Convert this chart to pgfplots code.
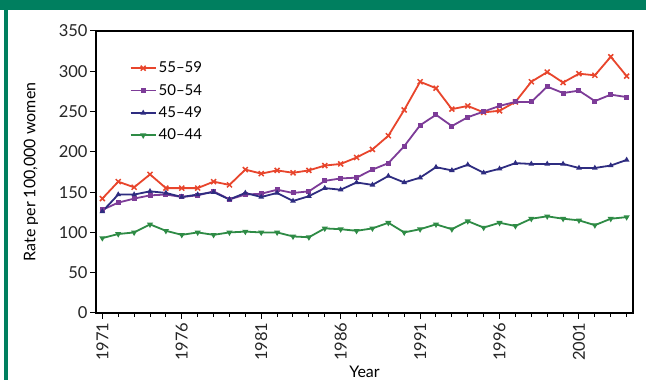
\documentclass[border=0pt]{standalone}
\usepackage{fontspec}
\setmainfont{Lato}
\usepackage{pgfplots}
\usepackage{pgfplotstable}
\pgfplotsset{compat=1.18}
\definecolor{framegreen}{HTML}{007F5F}
\definecolor{cred}{HTML}{E8452C}
\definecolor{cpurple}{HTML}{7D3C98}
\definecolor{cblue}{HTML}{2E2C80}
\definecolor{cgreen}{HTML}{2E8B45}
\pgfplotstableread{
year a b c d
1971 142 128 126 93
1972 163 137 147 98
1973 156 142 147 100
1974 172 146 151 110
1975 155 147 149 102
1976 155 144 144 97
1977 155 146 147 100
1978 163 151 150 97
1979 159 141 141 100
1980 178 147 149 101
1981 173 148 144 100
1982 177 153 149 100
1983 174 149 139 95
1984 177 151 145 94
1985 183 164 155 105
1986 185 167 153 104
1987 193 168 162 102
1988 203 178 159 105
1989 220 186 170 112
1990 252 207 162 100
1991 287 233 168 104
1992 279 246 181 110
1993 253 232 177 104
1994 257 243 184 114
1995 249 250 174 106
1996 251 257 179 112
1997 262 262 186 108
1998 287 262 185 117
1999 299 281 185 120
2000 286 273 185 117
2001 297 276 180 115
2002 295 263 180 109
2003 318 271 183 117
2004 294 268 190 119
}\datatable
\begin{document}
\begin{tikzpicture}[x=1pt,y=1pt]
\useasboundingbox (0,0) rectangle (646,380);
\fill[white] (0,0) rectangle (646,380);
\fill[framegreen] (0,370) rectangle (646,380);
\fill[framegreen] (4,0) rectangle (8,370);
\begin{axis}[
  at={(96pt,67pt)}, anchor=south west,
  scale only axis, width=537pt, height=282pt,
  xmin=1970.6, xmax=2004.4, ymin=0, ymax=350,
  xtick={1971,1976,1981,1986,1991,1996,2001},
  minor xtick={1971,...,2004},
  ytick={0,50,...,350},
  tick align=outside, xtick pos=left, ytick pos=left,
  major tick length=6pt, minor tick length=4pt,
  tick style={black, line width=1pt},
  axis line style={black, line width=1.3pt},
  /pgf/number format/assume math mode=true,
  /pgf/number format/set thousands separator={},
  ticklabel style={font=\fontsize{16.5}{16.5}\selectfont, text=black!85},
  yticklabel style={xshift=1pt},
  xticklabel style={rotate=90, anchor=east},
  xlabel={Year}, ylabel={Rate per 100,000 women},
  label style={font=\fontsize{16}{16}\selectfont},
  xlabel style={at={(axis description cs:0.5,-0.209)}, anchor=center},
  ylabel style={at={(axis description cs:-0.121,0.5)}, anchor=center},
  legend style={draw=none, fill=none, at={(axis description cs:0.057,0.905)}, anchor=north west,
    font=\fontsize{15}{15}\selectfont, row sep=6pt, legend cell align=left},
  legend image code/.code={\draw[mark repeat=2, mark phase=2, #1] plot coordinates {(0pt,0pt) (12.5pt,0pt) (25pt,0pt)};},
  every axis plot/.append style={line width=1.8pt},
]
\addplot[cred, mark=x, mark size=3.5pt, mark options={line width=1.5pt}] table[x=year,y=a]{\datatable};
\addlegendentry{55–59}
\addplot[cpurple, mark=square*, mark size=1.6pt] table[x=year,y=b]{\datatable};
\addlegendentry{50–54}
\addplot[cblue, mark=triangle*, mark size=1.5pt] table[x=year,y=c]{\datatable};
\addlegendentry{45–49}
\addplot[cgreen, mark=triangle*, mark size=1.8pt, mark options={rotate=180}] table[x=year,y=d]{\datatable};
\addlegendentry{40–44}
\end{axis}
\end{tikzpicture}
\end{document}
